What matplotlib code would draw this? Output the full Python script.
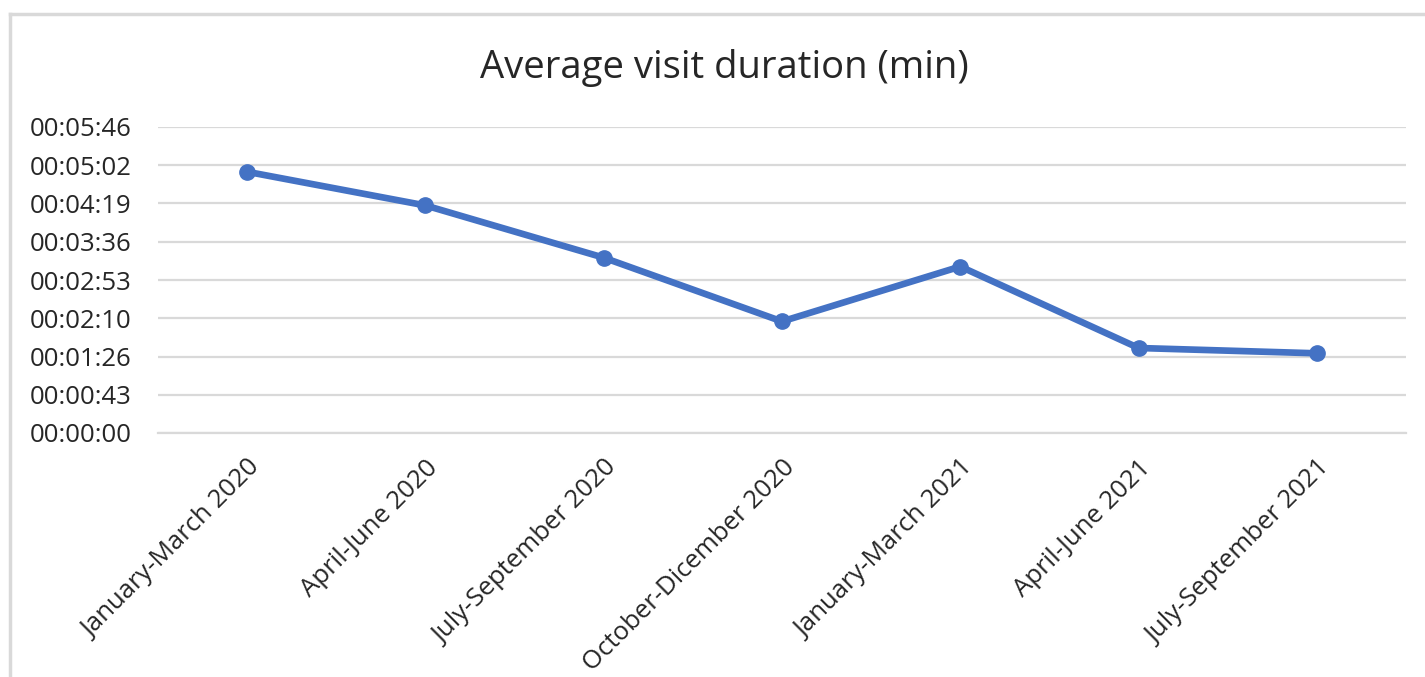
import matplotlib.pyplot as plt
from matplotlib.lines import Line2D
from matplotlib.ticker import FuncFormatter, MultipleLocator

# average visit duration per quarter, in seconds
periods = ["January-March 2020", "April-June 2020", "July-September 2020",
           "October-Dicember 2020", "January-March 2021", "April-June 2021",
           "July-September 2021"]
duration_sec = [295, 257, 198, 126, 188, 96, 90]

# excel-style time axis: step of 0.0005 days = 43.2 s
step = 43.2
n_steps = 8

plt.rcParams['font.family'] = ['Open Sans', 'DejaVu Sans']

fig = plt.figure(figsize=(14.25, 6.77), dpi=100)
ax = fig.add_axes([158/1425, 1 - 433/677, 1248/1425, 306/677])

x = range(len(periods))
ax.plot(x, duration_sec, color='#4472C4', linewidth=4.8, marker='o',
        markersize=11, solid_capstyle='round', zorder=3)

def hms(v, pos):
    s = int(round(v))
    return "%02d:%02d:%02d" % (s // 3600, (s % 3600) // 60, s % 60)

ax.set_xlim(-0.5, len(periods) - 0.5)
ax.set_ylim(0, step * n_steps)
ax.yaxis.set_major_locator(MultipleLocator(step))
ax.yaxis.set_major_formatter(FuncFormatter(hms))
ax.grid(axis='y', color='#D9D9D9', linewidth=1.6)
ax.set_axisbelow(True)
for side in ['top', 'right', 'left']:
    ax.spines[side].set_visible(False)
ax.spines['bottom'].set_color('#D9D9D9')
ax.spines['bottom'].set_linewidth(1.6)
ax.tick_params(axis='both', length=0, labelsize=18.5, colors='#404040',
               labelcolor='#262626')
ax.tick_params(axis='y', pad=19)
ax.set_xticks(list(x))
ax.set_xticklabels(periods, rotation=45, ha='right', va='top',
                   rotation_mode='anchor')
ax.tick_params(axis='x', pad=16)

fig.text(724/1425, 1 - 68/677, "Average visit duration (min)", ha='center',
         va='center', fontsize=27.5, color='#262626')

# chart frame
fig.add_artist(Line2D([10/1425, 10/1425], [0, 1 - 14/677], color='#D9D9D9',
                      linewidth=2.5, transform=fig.transFigure))
fig.add_artist(Line2D([10/1425, 1], [1 - 14/677, 1 - 14/677], color='#D9D9D9',
                      linewidth=2.5, transform=fig.transFigure))

fig.savefig("out.png", dpi=100)
